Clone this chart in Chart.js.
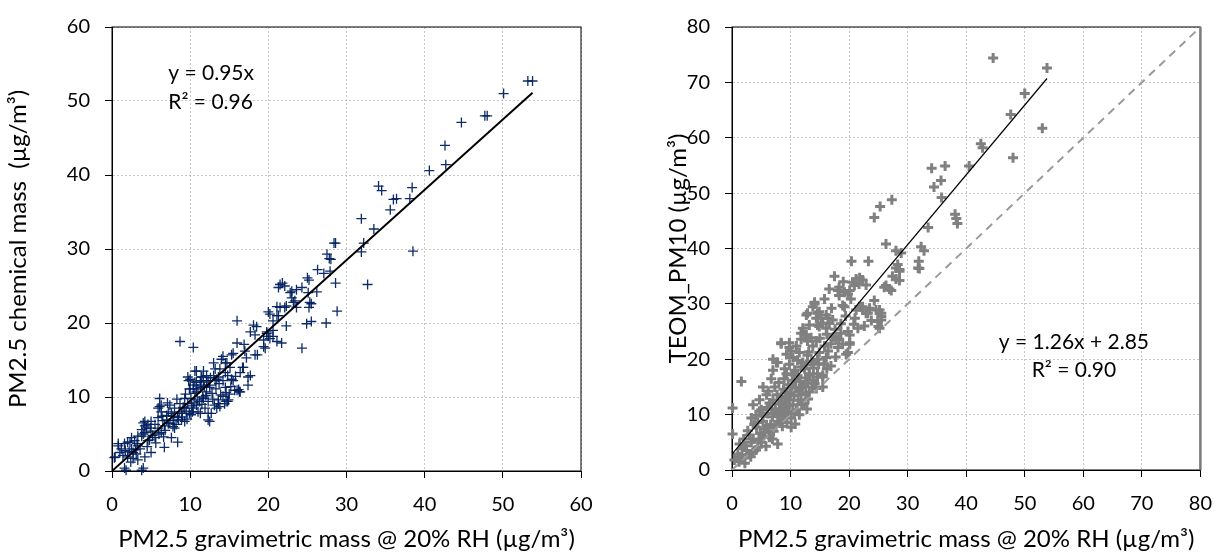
<!DOCTYPE html>
<html>
<head>
<meta charset="utf-8">
<script src="https://cdn.jsdelivr.net/npm/chart.js@4.4.0/dist/chart.umd.min.js"></script>
<style>
  body { margin: 0; background: #fff; }
  #leftChart { position: absolute; left: 0; top: 0; }
  #rightChart { position: absolute; left: 620px; top: 0; }
</style>
</head>
<body>
<canvas id="leftChart" width="620" height="557"></canvas>
<canvas id="rightChart" width="607" height="557"></canvas>
<script>
// Données : [gravimétrique, chimique]
const chemPairs = [
  [53.2,52.7],[53.8,52.7],[50.1,51.0],[47.7,48.0],[48.0,48.0],[44.7,47.1],[42.6,44.0],[42.7,41.4],
  [40.6,40.6],[38.4,38.3],[38.1,36.8],[38.5,29.7],[34.1,38.5],[34.5,37.9],[36.0,36.7],[36.4,36.8],
  [35.6,35.3],[31.9,34.1],[33.5,32.7],[32.2,30.8],[31.9,29.6],[28.4,30.8],[28.6,30.8],[27.5,29.3],
  [27.8,28.7],[28.0,28.6],[26.3,27.2],[27.1,26.7],[27.9,27.0],[25.0,26.1],[25.2,25.8],[21.8,25.4],
  [28.6,25.4],[32.7,25.2],[28.8,21.6],[21.5,25.2],[22.1,25.0],[23.0,24.3],[23.6,24.5],[24.3,24.8],
  [26.2,24.2],[23.0,23.4],[23.2,22.8],[22.3,22.3],[23.6,22.1],[25.3,22.8],[25.2,22.1],[21.5,22.1],
  [20.2,21.2],[21.1,21.0],[20.6,20.3],[16.0,20.3],[18.1,19.7],[18.5,19.5],[17.7,18.8],[18.3,18.4],
  [19.8,18.8],[20.0,18.2],[19.4,17.7],[20.6,18.2],[21.1,17.5],[21.7,17.3],[22.3,19.6],[24.9,19.9],
  [25.5,20.2],[27.4,20.0],[24.3,16.6],[8.7,17.5],[10.4,16.7],[19.4,16.8],[18.3,15.7],[17.0,16.2],
  [16.0,17.3],[17.2,15.3],[16.8,14.0],[17.7,12.9],[17.4,11.6],[16.4,10.7],[16.0,10.9],[14.9,9.6],
  [14.6,9.4],[13.6,9.1],[13.4,8.5],[12.5,6.7],[12.3,7.8],[11.3,7.8],[15.3,15.7],[14.2,15.5],
  [14.5,14.6],[15.1,14.0],[15.5,12.2],[14.5,11.3],[13.2,13.8],[13.4,12.4],[12.1,12.9],[11.7,12.0],
  [10.8,13.5],[11.3,12.2],[9.8,12.2],[10.0,11.1],[10.8,10.7],[6.1,9.8],[6.1,8.7],[6.4,7.4],
  [4.2,6.7],[4.4,5.8],[4.0,5.0],[4.9,5.8],[5.5,6.3],[0.8,3.7],[0.4,1.9],[1.7,2.8],
  [2.3,3.9],[2.7,2.5],[3.2,3.7],[1.8,0.1],[3.8,0.1],[16.9,17.1],[18.6,15.7],[19.6,16.6],
  [20.2,17.9],[19.8,18.6],[20.6,19.0],[20.0,21.5],[21.3,21.0],[21.1,22.2],[22.1,22.1],[22.8,24.1],
  [23.4,23.0],[25.1,24.1],[25.5,22.6],[21.3,24.8],[13.0,14.6],[14.0,15.1],[15.5,15.9],[14.7,14.6],
  [13.8,13.8],[14.5,13.3],[15.3,12.4],[16.7,14.0],[17.4,12.7],[16.2,11.0],[10.6,13.5],[11.7,13.5],
  [11.5,12.7],[10.0,12.4],[10.8,12.0],[12.1,12.2],[12.5,11.6],[10.4,11.1],[11.3,11.3],[13.0,12.9],
  [13.2,12.2],[6.3,8.9],[5.9,8.5],[4.2,6.1],[0.8,3.4],[0.3,1.8],[1.0,2.5],[1.4,2.1],
  [2.0,3.9],[2.5,3.0],[2.9,4.1],[3.3,3.4],[3.1,2.3],[3.8,4.7],[4.2,5.2],[4.6,4.1],
  [5.0,5.4],[5.5,4.5],[5.9,5.8],[6.3,5.2],[6.7,6.1],[7.0,6.9],[7.4,6.5],[7.8,7.4],
  [8.0,5.8],[8.4,7.2],[8.9,7.8],[9.3,8.5],[9.7,9.1],[10.1,9.8],[10.6,10.5],[11.0,11.1],
  [11.4,11.6],[9.9,7.8],[10.4,8.5],[10.8,8.9],[11.2,9.4],[11.6,10.0],[12.1,10.7],[12.5,11.3],
  [9.3,6.7],[10.1,7.6],[11.9,8.5],[12.3,9.4],[13.1,8.9],[13.6,9.6],[12.7,7.8],[12.3,6.9],
  [14.4,9.1],[14.8,9.4],[15.7,10.9],[16.3,10.7],[13.6,12.7],[14.2,12.2],[14.8,12.9],[11.4,12.7],
  [12.3,12.2],[9.7,12.7],[10.6,12.0],[7.6,4.5],[8.4,3.9],[6.7,3.2],[5.0,2.5],[4.2,1.9],
  [3.3,1.5],[4.0,0.4],[9.9,11.1],[10.4,11.6],[9.3,9.8],[8.0,8.5],[8.7,9.1],[7.2,8.0],
  [7.4,8.9],[5.9,7.2],[6.3,8.0],[4.6,6.3],[5.0,6.7],[3.8,5.6],[3.3,4.7],[2.5,4.5],
  [1.6,3.7],[1.2,3.0],[4.0,6.5],[2.0,1.9],[2.7,1.7],[1.6,0.4],[6.8,5.5],[7.2,6.4],
  [7.9,6.8],[8.6,8.0],[9.0,7.3],[9.5,8.1],[10.2,8.8],[10.9,9.6],[11.5,9.0],[12.0,10.2],
  [12.8,10.5],[13.3,11.1],[13.9,10.3],[14.6,10.6],[15.2,11.4],[8.2,6.3],[9.1,8.6],[10.5,9.2],
  [11.8,11.4],[12.6,12.6],[13.7,11.8],[5.2,4.8],[6.0,5.0],[6.5,6.8],[7.6,7.8],[8.9,6.9],
  [3.6,3.0],[2.2,2.6],[4.8,4.2],[7.0,7.5],[7.8,6.0],[8.5,6.9],[9.6,7.0],[10.3,8.0],
  [11.0,8.0],[11.7,9.8],[12.9,9.7],[13.8,8.7],[14.2,10.1],[15.0,10.4],[15.8,12.8],[16.4,13.3],
  [6.6,4.6],[5.6,3.8],[4.5,3.3],[3.0,2.9],[2.4,1.2],[9.4,10.4],[8.3,9.7],[7.1,9.2]
];

// Données : [gravimétrique, TEOM PM10]
const teomPairs = [
  [44.6,74.4],[53.8,72.6],[50.0,68.0],[47.6,64.2],[53.0,61.7],[42.5,58.9],[42.8,58.2],[48.0,56.4],
  [34.1,54.5],[36.4,54.9],[40.5,54.9],[34.5,51.1],[35.7,52.3],[35.8,49.2],[27.3,48.8],[25.3,47.6],
  [24.3,45.6],[38.1,46.2],[38.3,45.4],[38.5,44.5],[33.5,43.8],[26.3,40.8],[28.0,39.6],[28.9,39.2],
  [32.3,40.3],[32.8,39.6],[31.9,37.7],[31.8,36.5],[20.4,37.7],[23.3,37.7],[28.3,37.1],[28.6,36.2],
  [28.0,36.5],[17.5,35.0],[21.8,34.7],[22.3,34.3],[20.6,33.9],[27.4,35.0],[28.0,34.5],[28.6,34.2],
  [21.2,34.5],[21.7,33.6],[20.9,33.3],[22.9,33.4],[16.6,32.7],[18.3,33.0],[19.2,32.1],[20.1,32.4],
  [18.3,31.5],[26.3,33.3],[27.2,32.4],[28.6,35.9],[32.0,36.4],[20.3,30.9],[19.2,29.5],[21.8,29.5],
  [22.3,28.9],[22.9,28.3],[23.5,29.2],[24.3,30.6],[25.2,28.9],[25.5,27.7],[24.9,26.8],[25.2,25.6],
  [14.1,30.3],[13.8,29.5],[12.9,28.3],[14.6,28.3],[15.2,27.4],[15.5,26.5],[14.6,26.2],[16.4,27.4],
  [13.2,26.2],[12.1,25.6],[11.8,24.7],[12.7,24.4],[13.5,23.9],[14.4,23.3],[13.8,22.4],[19.8,25.0],
  [21.5,25.6],[20.1,24.4],[18.3,23.6],[18.9,22.7],[20.1,23.0],[18.1,22.1],[19.8,21.2],[15.8,22.4],
  [16.4,21.5],[14.9,21.2],[14.6,20.0],[16.1,20.3],[8.4,23.0],[7.0,20.0],[7.6,19.4],[7.0,18.0],
  [9.8,23.0],[11.0,22.4],[10.1,21.5],[11.5,21.2],[10.4,20.3],[12.1,19.4],[9.8,19.1],[10.7,18.0],
  [9.3,17.4],[13.2,17.4],[14.6,16.8],[15.5,17.1],[14.1,15.6],[15.5,15.0],[0.1,11.2],[0.1,6.5],
  [0.4,1.8],[1.6,16.0],[1.3,2.3],[2.2,1.2],[10.1,7.7],[7.8,4.7],[18.1,32.4],[19.8,31.8],
  [18.9,29.7],[26.0,33.0],[26.9,32.7],[14.1,30.0],[12.7,28.0],[14.9,28.6],[16.1,28.0],[14.4,27.4],
  [16.6,26.5],[17.2,27.1],[14.9,25.9],[16.1,25.6],[12.4,24.4],[11.8,23.6],[12.9,23.3],[8.4,22.8],
  [9.8,22.1],[9.3,20.9],[7.8,19.4],[18.6,24.7],[17.8,23.6],[20.1,22.7],[19.5,20.9],[22.3,29.5],
  [21.2,28.9],[23.2,28.3],[24.6,28.9],[25.5,28.3],[25.5,27.1],[25.0,25.9],[12.4,18.3],[13.2,17.1],
  [14.6,17.4],[15.5,16.8],[13.8,16.2],[12.1,15.3],[14.4,14.7],[13.2,14.1],[11.8,13.6],[6.7,16.5],
  [5.3,15.0],[7.3,15.0],[5.9,13.6],[4.7,12.7],[6.4,12.1],[8.4,13.3],[9.3,14.1],[9.8,12.7],
  [10.4,11.8],[11.0,10.9],[9.5,10.6],[8.7,9.7],[7.8,8.8],[10.1,9.4],[11.5,10.0],[3.6,11.8],
  [4.7,10.6],[3.3,9.4],[5.3,8.8],[5.9,7.7],[4.2,7.7],[2.7,7.1],[3.6,5.6],[5.0,5.0],
  [6.4,5.9],[1.3,4.7],[2.5,3.5],[1.0,2.9],[3.6,3.2],[8.0,15.8],[8.9,16.5],[10.5,16.2],
  [11.2,17.0],[12.6,16.6],[9.6,15.4],[10.9,14.8],[11.9,14.9],[12.9,15.7],[7.4,11.0],[8.1,11.9],
  [9.0,12.3],[10.6,13.4],[11.3,12.6],[12.3,12.0],[13.0,12.8],[6.1,10.2],[6.9,9.6],[7.6,10.4],
  [8.3,10.8],[9.2,11.2],[5.2,9.7],[4.4,8.6],[6.6,8.2],[7.1,7.0],[8.6,7.9],[9.4,8.6],
  [10.8,8.3],[3.0,6.3],[4.8,6.6],[5.6,6.8],[2.0,5.6],[1.7,3.9],[3.2,2.4],[4.4,4.1],
  [5.8,4.3],[6.9,5.6],[15.7,19.2],[16.9,18.8],[17.7,20.4],[13.6,19.6],[12.9,20.7],[11.2,19.8],
  [17.3,24.0],[18.6,26.4],[19.4,27.8],[21.0,27.4],[22.6,26.0],[23.8,27.0],[20.8,26.3],
  [6.2,14.2],[7.7,13.6],[8.8,14.6],[10.2,15.1],[11.6,16.0],[9.1,13.0],[10.0,13.8],[11.4,14.2],
  [12.6,13.9],[13.7,15.0],[8.5,12.0],[9.7,11.6],[11.9,11.8],[12.8,11.0],[7.0,12.6],[6.0,11.3],
  [5.0,10.9],[4.1,9.9],[6.8,10.9],[8.0,9.9],[9.0,10.1],[10.6,10.2],[3.8,8.2],[5.5,7.4],
  [6.3,6.8],[7.5,7.9],[8.3,8.6],[2.4,4.4],[3.3,5.0],[4.6,5.5],[5.3,6.1],[1.8,2.1],
  [2.9,2.8],[4.1,3.6],[1.2,1.5],[11.8,18.6],[12.7,19.0],[13.9,18.4],[10.3,17.2],[9.0,18.3],
  [14.8,19.1],[16.2,18.3],[15.0,23.8],[16.9,22.8],[17.6,25.4],[17.0,29.2],[15.8,30.9],[19.0,34.0],
  [16.2,24.5],[13.1,21.3]
];

// Droites de régression et 1:1
const fitLeftX = [0, 53.8];
const fitLeftY = [0, 51.1];
const fitRightX = [0, 53.8];
const fitRightY = [2.85, 70.7];
const oneToOneX = [0, 80];
const oneToOneY = [0, 80];

const xTitle = 'PM2.5 gravimetric mass @ 20% RH (\u00b5g/m\u00b3)';
const yTitleLeft = 'PM2.5 chemical mass  (\u00b5g/m\u00b3)';
const yTitleRight = 'TEOM_PM10 (\u00b5g/m\u00b3)';
const eqLeft = ['y = 0.95x', 'R\u00b2 = 0.96'];
const eqRight = ['y = 1.26x + 2.85', 'R\u00b2 = 0.90'];

const FONT = 'Lato';

function toPoints(xs, ys) {
  return xs.map((x, i) => ({x: x, y: ys[i]}));
}

function makeAxis(max, title, titlePad, size, horizontal) {
  return {
    type: 'linear',
    min: 0,
    max: max,
    ticks: {stepSize: 10, color: '#000', font: {family: FONT, size: 20}, padding: 15},
    grid: {color: '#c6c6c6', tickColor: '#000', tickLength: 7, tickWidth: 1, tickBorderDash: []},
    border: {color: '#000', width: 1, dash: [2, 2]},
    title: {display: true, text: title, color: '#000', font: {family: FONT, size: 24}, padding: titlePad},
    afterFit: (scale) => {
      if (horizontal) scale.height = size;
      else scale.width = size;
    }
  };
}

// Cadre autour de la zone de tracé + texte des équations
const framePlugin = {
  id: 'frame',
  beforeDatasetsDraw(chart, args, opts) {
    const a = chart.chartArea;
    const ctx = chart.ctx;
    ctx.save();
    ctx.setLineDash([]);
    ctx.strokeStyle = '#000';
    ctx.lineWidth = 1;
    ctx.strokeRect(a.left, a.top, a.right - a.left, a.bottom - a.top);
    if (opts.rightColor) {
      ctx.strokeStyle = opts.rightColor;
      ctx.lineWidth = 2.5;
      ctx.beginPath();
      ctx.moveTo(a.right, a.top);
      ctx.lineTo(a.right, a.bottom);
      ctx.stroke();
    }
    ctx.restore();
  },
  afterDraw(chart, args, opts) {
    const ctx = chart.ctx;
    const xs = chart.scales.x, ys = chart.scales.y;
    ctx.save();
    ctx.fillStyle = '#000';
    ctx.font = '21px ' + FONT;
    ctx.textAlign = opts.align;
    ctx.textBaseline = 'middle';
    opts.lines.forEach((t, i) => {
      ctx.fillText(t, xs.getPixelForValue(opts.x), ys.getPixelForValue(opts.y[i]));
    });
    ctx.restore();
  }
};

function createScatter(id, pairs, color, radius, width, lines, xMax, yTitle, yTitlePad, xHeight, pad, frameOpts) {
  new Chart(document.getElementById(id), {
    type: 'scatter',
    data: {
      datasets: lines.concat([{
        data: pairs.map(p => ({x: p[0], y: p[1]})),
        pointStyle: 'cross',
        radius: radius,
        borderColor: color,
        borderWidth: width,
        clip: false,
        order: 2
      }])
    },
    options: {
      responsive: false,
      animation: false,
      devicePixelRatio: 1,
      layout: {padding: pad},
      plugins: {legend: {display: false}, tooltip: {enabled: false}, frame: frameOpts},
      scales: {
        x: makeAxis(xMax, xTitle, {top: 4, bottom: 3}, xHeight, true),
        y: makeAxis(xMax, yTitle, {top: yTitlePad, bottom: 0}, 112, false)
      }
    },
    plugins: [framePlugin]
  });
}

createScatter('leftChart', chemPairs, 'rgba(0,32,96,0.95)', 5, 1.3, [{
  type: 'line', data: toPoints(fitLeftX, fitLeftY), borderColor: '#000', borderWidth: 2,
  pointRadius: 0, order: 0
}], 60, yTitleLeft, 4, 86, {top: 16, right: 39, left: 0, bottom: 0},
  {lines: eqLeft, x: 7.2, y: [53.7, 49.8], align: 'left'});

createScatter('rightChart', teomPairs, '#808080', 5, 3, [{
  type: 'line', data: toPoints(fitRightX, fitRightY), borderColor: '#000', borderWidth: 1.2,
  pointRadius: 0, order: 0
}, {
  type: 'line', data: toPoints(oneToOneX, oneToOneY), borderColor: '#9a9a9a', borderWidth: 2,
  borderDash: [8, 6], pointRadius: 0, order: 1
}], 80, yTitleRight, 44, 87, {top: 17, right: 25, left: 0, bottom: 0},
  {lines: eqRight, x: 58.4, y: [23.0, 18.0], align: 'center', rightColor: '#7a7a7a'});
</script>
</body>
</html>
